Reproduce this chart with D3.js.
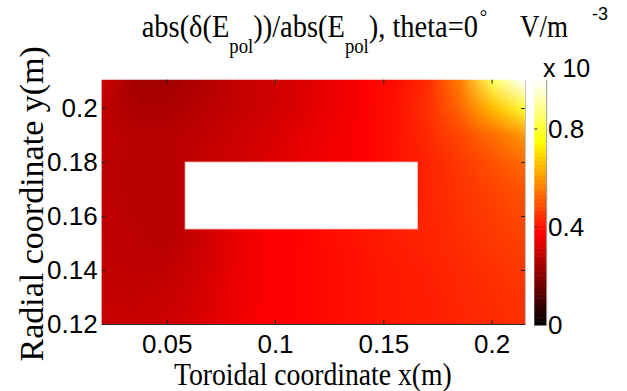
<!DOCTYPE html>
<html>
<head>
<meta charset="utf-8">
<script src="https://cdn.jsdelivr.net/npm/d3@7"></script>
<style>
  body { margin: 0; background: #fff; }
  text { fill: #000; }
</style>
</head>
<body>
<svg id="chart" width="627" height="391"></svg>
<script>
// grid of the field (values in units of 1e-3 V/m)
var xCols = [0.02, 0.035, 0.05, 0.065, 0.08, 0.095, 0.11, 0.125, 0.14, 0.155, 0.17, 0.185, 0.2, 0.215];
var yRows = [0.21, 0.2, 0.19, 0.18, 0.17, 0.16, 0.15, 0.14, 0.13, 0.12];
var field = [
  [0.300, 0.240, 0.240, 0.262, 0.285, 0.302, 0.320, 0.345, 0.370, 0.392, 0.440, 0.560, 0.840, 1.000],
  [0.279, 0.255, 0.255, 0.270, 0.288, 0.305, 0.325, 0.348, 0.372, 0.400, 0.445, 0.525, 0.650, 0.800],
  [0.279, 0.272, 0.272, 0.282, 0.298, 0.315, 0.335, 0.355, 0.375, 0.400, 0.436, 0.480, 0.535, 0.600],
  [0.276, 0.272, 0.272, 0.290, 0.306, 0.322, 0.342, 0.360, 0.376, 0.400, 0.428, 0.458, 0.495, 0.535],
  [0.276, 0.272, 0.268, null, null, null, null, null, null, null, 0.428, 0.450, 0.472, 0.500],
  [0.279, 0.273, 0.268, null, null, null, null, null, null, null, 0.426, 0.446, 0.463, 0.485],
  [0.282, 0.276, 0.270, 0.300, 0.340, 0.368, 0.377, 0.392, 0.405, 0.419, 0.426, 0.441, 0.456, 0.471],
  [0.287, 0.282, 0.285, 0.308, 0.342, 0.370, 0.378, 0.389, 0.402, 0.412, 0.422, 0.434, 0.446, 0.460],
  [0.291, 0.288, 0.294, 0.315, 0.346, 0.372, 0.378, 0.389, 0.402, 0.412, 0.419, 0.431, 0.441, 0.451],
  [0.294, 0.296, 0.304, 0.322, 0.350, 0.374, 0.378, 0.389, 0.402, 0.412, 0.419, 0.428, 0.437, 0.449]
];
// the hole: x from, x to, y from, y to
var hole = [0.0585, 0.1658, 0.1552, 0.18];

var xTicks = [0.05, 0.1, 0.15, 0.2];
var yTicks = [0.12, 0.14, 0.16, 0.18, 0.2];
var cTicks = [0, 0.4, 0.8];
var cLimit = [0, 1.0];

var svg = d3.select("#chart");

var x = d3.scaleLinear().domain([0.02, 0.2154]).range([101.7, 525]);
var y = d3.scaleLinear().domain([0.12, 0.2105]).range([324, 79.7]);
var c = d3.scaleLinear().domain(cLimit).range([325, 80]);

// matlab "hot"
function hot(v) {
  var t = (v - cLimit[0]) / (cLimit[1] - cLimit[0]);
  t = Math.max(0, Math.min(1, t));
  var r = Math.min(1, t / 0.375);
  var g = Math.max(0, Math.min(1, (t - 0.375) / 0.375));
  var b = Math.max(0, Math.min(1, (t - 0.75) / 0.25));
  return [Math.round(r * 255), Math.round(g * 255), Math.round(b * 255)];
}

// small image, one pixel per grid node, stretched and smoothed by the browser
var cv = document.createElement("canvas");
cv.width = xCols.length;
cv.height = yRows.length;
var ctx = cv.getContext("2d");
var img = ctx.createImageData(cv.width, cv.height);
yRows.forEach(function(yy, j) {
  xCols.forEach(function(xx, i) {
    var v = field[j][i];
    if (v === null) {
      // hidden under the hole: take the nearest filled node in the column
      var k;
      for (k = 1; k < yRows.length; k++) {
        if (j + k < yRows.length && field[j + k][i] !== null) { v = field[j + k][i]; break; }
        if (j - k >= 0 && field[j - k][i] !== null) { v = field[j - k][i]; break; }
      }
    }
    var col = hot(v), p = (j * cv.width + i) * 4;
    img.data[p] = col[0];
    img.data[p + 1] = col[1];
    img.data[p + 2] = col[2];
    img.data[p + 3] = 255;
  });
});
ctx.putImageData(img, 0, 0);

var cellW = (x(xCols[xCols.length - 1]) - x(xCols[0])) / (xCols.length - 1);
var cellH = (y(yRows[yRows.length - 1]) - y(yRows[0])) / (yRows.length - 1);

svg.append("clipPath").attr("id", "plotclip")
  .append("rect")
  .attr("x", x.range()[0]).attr("y", y.range()[1])
  .attr("width", x.range()[1] - x.range()[0])
  .attr("height", y.range()[0] - y.range()[1]);

svg.append("image")
  .attr("clip-path", "url(#plotclip)")
  .attr("href", cv.toDataURL())
  .attr("preserveAspectRatio", "none")
  .attr("x", x(xCols[0]) - cellW / 2)
  .attr("y", y(yRows[0]) - cellH / 2)
  .attr("width", cellW * xCols.length)
  .attr("height", cellH * yRows.length);

svg.append("rect")
  .attr("x", x(hole[0])).attr("y", y(hole[3]))
  .attr("width", x(hole[1]) - x(hole[0]))
  .attr("height", y(hole[2]) - y(hole[3]))
  .style("fill", "#fff")
  .style("stroke", "#f6c4bc")
  .style("stroke-width", 0.8);

// axes, ticks inside on all four sides
var tickFont = "'Liberation Sans', Arial, sans-serif";

var gx = svg.append("g").attr("transform", "translate(0," + y.range()[0] + ")")
  .call(d3.axisBottom(x).tickValues(xTicks).tickFormat(d3.format("~g")).tickSizeInner(-4).tickSizeOuter(0).tickPadding(11));
var gy = svg.append("g").attr("transform", "translate(" + x.range()[0] + ",0)")
  .call(d3.axisLeft(y).tickValues(yTicks).tickFormat(d3.format("~g")).tickSizeInner(-4).tickSizeOuter(0).tickPadding(4));
var gt = svg.append("g").attr("transform", "translate(0," + y.range()[1] + ")")
  .call(d3.axisTop(x).tickValues(xTicks).tickFormat("").tickSizeInner(-4).tickSizeOuter(0));
var gr = svg.append("g").attr("transform", "translate(" + x.range()[1] + ",0)")
  .call(d3.axisRight(y).tickValues(yTicks).tickFormat("").tickSizeInner(-4).tickSizeOuter(0));

[gx, gy, gt, gr].forEach(function(g) {
  g.selectAll(".tick line").style("stroke", "#222").style("stroke-width", 1);
  g.selectAll("text").style("font-family", tickFont).style("font-size", "26px").style("fill", "#000");
});
gx.select(".domain").style("stroke", "#333");
gy.select(".domain").style("stroke", "#b00").style("stroke-opacity", 0.3);
gt.select(".domain").remove();
gr.select(".domain").style("stroke", "#888").style("stroke-opacity", 0.5);

// colorbar
var cx0 = 534.3, cw = 12.4;
svg.append("g").selectAll("rect")
  .data(d3.range(64))
  .enter().append("rect")
  .attr("x", cx0)
  .attr("y", function(d) { return c(cLimit[0] + (d + 1) / 64 * (cLimit[1] - cLimit[0])); })
  .attr("width", cw)
  .attr("height", (c.range()[0] - c.range()[1]) / 64 + 0.5)
  .style("fill", function(d) { var k = hot(cLimit[0] + (d + 0.5) / 64 * (cLimit[1] - cLimit[0])); return "rgb(" + k + ")"; });

svg.append("line")
  .attr("x1", cx0 + cw).attr("x2", cx0 + cw)
  .attr("y1", c.range()[1]).attr("y2", c.range()[0])
  .style("stroke", "#999").style("stroke-width", 1);

var cb = svg.append("g").selectAll("g").data(cTicks).enter().append("g");
cb.append("line")
  .attr("x1", cx0).attr("x2", cx0 + 3)
  .attr("y1", function(d) { return c(d); }).attr("y2", function(d) { return c(d); })
  .style("stroke", "#333");
cb.append("text")
  .attr("x", 548)
  .attr("y", function(d) { return c(d); })
  .attr("dy", "0.36em")
  .style("font-family", tickFont).style("font-size", "26px")
  .text(function(d) { return d3.format("~g")(d); });

svg.append("text").attr("x", 543).attr("y", 77)
  .style("font-family", tickFont).style("font-size", "25px")
  .text("x 10");
svg.append("text").attr("x", 592).attr("y", 20)
  .style("font-family", tickFont).style("font-size", "18px")
  .text("-3");

// serif labels, squeezed sideways to the widths seen in the picture
var serif = "'Liberation Serif', 'Times New Roman', serif";

function fitWidth(g, text, w) {
  var len = text.node().getComputedTextLength();
  var sx = w / len;
  var tr = g.attr("transform");
  g.attr("transform", tr + " scale(" + sx + ",1)");
}

var gTitle = svg.append("g").attr("transform", "translate(141.7,37)");
var title = gTitle.append("text").style("font-family", serif).style("font-size", "32px");
title.append("tspan").text("abs(\u03b4(E");
title.append("tspan").attr("dy", 16).style("font-size", "21px").text("pol");
title.append("tspan").attr("dy", -16).text("))/abs(E");
title.append("tspan").attr("dy", 16).style("font-size", "21px").text("pol");
title.append("tspan").attr("dy", -16).text("), theta=0");
title.append("tspan").attr("dy", -13).attr("dx", 2).style("font-size", "21px").text("\u00b0");
fitWidth(gTitle, title, 344);

var gUnit = svg.append("g").attr("transform", "translate(520,37)");
var unit = gUnit.append("text").style("font-family", serif).style("font-size", "32px").text("V/m");
fitWidth(gUnit, unit, 48);

var gXl = svg.append("g").attr("transform", "translate(174,385)");
var xl = gXl.append("text").style("font-family", serif).style("font-size", "31px").text("Toroidal coordinate x(m)");
fitWidth(gXl, xl, 278);

svg.append("text")
  .attr("transform", "translate(43," + ((y.range()[0] + y.range()[1]) / 2 + 2) + ") rotate(-90)")
  .attr("text-anchor", "middle")
  .style("font-family", serif).style("font-size", "34px")
  .text("Radial coordinate y(m)");
</script>
</body>
</html>
